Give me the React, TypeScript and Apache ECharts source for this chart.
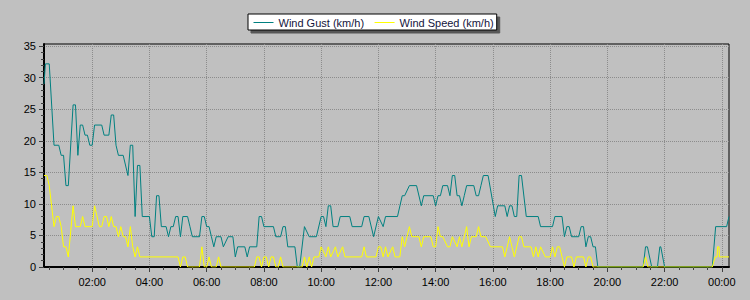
import React, { useEffect, useRef } from 'react';
import * as echarts from 'echarts';

const seriesNames = ['Wind Gust (km/h)', 'Wind Speed (km/h)'];
const seriesColors = ['#008080', '#ffff00'];

const xTickLabels = ['02:00', '04:00', '06:00', '08:00', '10:00', '12:00', '14:00', '16:00', '18:00', '20:00', '22:00', '00:00'];
const yTickValues = [0, 5, 10, 15, 20, 25, 30, 35];

const gustTimes = ['00:19','00:22','00:30','00:40','00:50','00:55','01:00','01:05','01:10','01:20','01:25','01:30','01:35','01:40','01:45','01:50','01:55','02:00','02:05','02:20','02:25','02:35','02:40','02:45','02:50','02:55','03:05','03:15','03:20','03:25','03:30','03:35','03:40','03:45','04:00','04:05','04:10','04:15','04:20','04:25','04:35','04:40','04:45','04:50','04:55','05:00','05:05','05:10','05:20','05:25','05:30','05:45','05:50','05:55','06:00','06:05','06:10','06:15','06:20','06:30','06:35','06:45','06:55','07:00','07:05','07:20','07:25','07:30','07:45','07:50','07:55','08:00','08:20','08:25','08:35','08:40','08:45','08:50','09:05','09:10','09:15','09:25','09:35','09:50','10:00','10:05','10:10','10:15','10:20','10:25','10:35','10:40','11:00','11:05','11:25','11:30','11:40','11:50','12:00','12:10','12:15','12:40','12:50','12:55','13:05','13:20','13:30','13:35','13:55','14:00','14:05','14:10','14:15','14:25','14:30','14:35','14:40','14:45','14:50','14:55','15:00','15:05','15:20','15:25','15:30','15:35','15:40','15:50','16:05','16:10','16:25','16:30','16:35','16:40','16:45','16:50','16:55','17:00','17:10','17:35','17:40','18:05','18:10','18:25','18:30','18:35','18:40','18:45','19:00','19:05','19:10','19:15','19:20','19:25','19:30','19:35','19:40','21:15','21:20','21:24','21:33','21:45','21:50','21:52','22:00','23:40','23:47','00:10','00:15'];
const gustValues = [29.0,32.2,32.2,19.3,19.3,17.7,17.7,12.9,12.9,25.7,25.7,17.7,22.5,22.5,20.9,20.9,19.3,19.3,22.5,22.5,20.9,20.9,24.1,24.1,19.3,17.7,17.7,14.5,19.3,19.3,8.0,16.1,16.1,8.0,8.0,4.8,4.8,11.3,11.3,6.4,6.4,4.8,6.4,6.4,8.0,8.0,4.8,8.0,8.0,6.4,4.8,4.8,8.0,8.0,6.4,6.4,4.8,3.2,4.8,4.8,3.2,4.8,4.8,1.6,3.2,3.2,1.6,3.2,3.2,8.0,8.0,6.4,6.4,4.8,4.8,6.4,6.4,3.2,3.2,0,0,6.4,4.8,4.8,8.0,8.0,6.4,9.7,9.7,6.4,6.4,8.0,8.0,6.4,6.4,8.0,8.0,4.8,8.0,6.4,8.0,8.0,11.3,11.3,12.9,12.9,9.7,11.3,11.3,9.7,11.3,11.3,12.9,12.9,11.3,14.5,14.5,11.3,11.3,9.7,11.3,12.9,12.9,11.3,11.3,12.9,14.5,14.5,8.0,9.7,9.7,8.0,9.7,9.7,8.0,8.0,14.5,14.5,8.0,8.0,6.4,6.4,8.0,8.0,4.8,6.4,6.4,4.8,4.8,6.4,6.4,3.2,4.8,4.8,3.2,3.2,0,0,3.2,3.2,0,0,3.2,3.2,0,0,6.4,6.4,8.0];

const speedTimes = ['00:19','00:25','00:30','00:40','00:45','00:50','00:55','01:00','01:05','01:10','01:20','01:25','01:35','01:40','01:45','02:00','02:05','02:15','02:20','02:25','02:30','02:35','02:40','02:45','02:50','02:55','03:00','03:05','03:10','03:15','03:20','03:25','03:30','03:35','03:40','05:00','05:05','05:10','05:15','05:20','05:45','05:50','05:55','06:00','06:05','06:10','06:20','06:25','06:30','07:40','07:45','07:50','07:55','08:00','08:05','08:10','08:15','08:20','08:25','08:30','08:35','08:40','09:20','09:25','09:30','09:35','09:40','09:45','09:55','10:00','10:10','10:15','10:20','10:30','10:35','10:45','10:50','11:25','11:30','11:35','11:55','12:00','12:05','12:10','12:15','12:20','12:30','12:35','12:45','12:50','12:55','13:05','13:10','13:25','13:30','13:35','13:50','13:55','14:00','14:05','14:10','14:15','14:25','14:30','14:35','14:45','14:50','14:55','15:05','15:10','15:15','15:25','15:30','15:35','15:45','15:55','16:20','16:25','16:35','16:45','16:55','17:00','17:05','17:20','17:25','17:30','17:35','17:40','17:50','18:00','18:05','18:10','18:15','18:20','18:30','18:35','18:45','18:50','18:55','19:10','19:15','19:20','19:25','19:30','21:15','21:20','21:25','23:40','23:46','23:50','23:51','23:54','23:55','00:15'];
const speedValues = [14.5,14.5,12.9,6.4,8.0,8.0,6.4,3.2,3.2,1.6,9.7,6.4,6.4,8.0,6.4,6.4,9.7,6.4,6.4,8.0,8.0,6.4,8.0,6.4,6.4,4.8,6.4,4.8,4.8,3.2,6.4,3.2,1.6,3.2,1.6,1.6,0,1.6,1.6,0,0,3.2,0,0,1.6,0,0,1.6,0,0,1.6,1.6,0,1.6,1.6,0,1.6,1.6,0,0,1.6,0,0,1.6,0,1.6,0,1.6,1.6,3.2,1.6,3.2,1.6,3.2,1.6,3.2,1.6,1.6,3.2,1.6,1.6,3.2,3.2,1.6,3.2,1.6,3.2,1.6,1.6,4.8,3.2,6.4,4.8,4.8,3.2,4.8,4.8,3.2,3.2,6.4,4.8,4.8,3.2,3.2,4.8,3.2,4.8,3.2,6.4,3.2,4.8,4.8,6.4,4.8,4.8,3.2,3.2,1.6,4.8,1.6,4.8,4.8,3.2,3.2,1.6,3.2,1.6,3.2,1.6,1.6,3.2,1.6,3.2,3.2,0,1.6,1.6,0,1.6,1.6,0,1.6,1.6,0,0,1.6,0,0,1.6,1.6,3.2,3.2,1.6,1.6];

const X_MIN = 19;
const X_MAX = 1455;
const Y_MAX = 35.35;
const FONT = 'Liberation Sans, Arial, sans-serif';

function toMinutes(times: string[]): number[] {
  const out: number[] = [];
  let offset = 0;
  let prev = -1;
  for (const t of times) {
    const [h, m] = t.split(':').map(Number);
    let v = h * 60 + m + offset;
    if (v < prev) {
      offset += 1440;
      v += 1440;
    }
    out.push(v);
    prev = v;
  }
  return out;
}

export default function App() {
  const ref = useRef<HTMLDivElement>(null);

  useEffect(() => {
    if (!ref.current) return;
    const chart = echarts.init(ref.current, undefined, { renderer: 'svg' });

    const majorX = xTickLabels.map((_, i) => (i + 1) * 120);
    const labelMap = new Map<number, string>();
    majorX.forEach((v, i) => labelMap.set(v, xTickLabels[i]));
    const minorX: number[] = [];
    for (let v = 30; v <= X_MAX; v += 30) {
      if (v >= X_MIN && v % 120 !== 0) minorX.push(v);
    }
    const minorY: number[] = [];
    for (let v = 1; v < 35; v++) {
      if (v % 5 !== 0) minorY.push(v);
    }

    const gustX = toMinutes(gustTimes);
    const speedX = toMinutes(speedTimes);

    const tickColor = '#404040';
    const gridLine = { show: true, lineStyle: { color: '#8c8c8c', width: 1, type: [1, 1] as any } };

    chart.setOption({
      animation: false,
      backgroundColor: '#c0c0c0',
      textStyle: { fontFamily: FONT },
      grid: {
        left: 44, top: 44, right: 21, bottom: 33,
        show: true, borderColor: '#000', borderWidth: 1, backgroundColor: 'transparent',
      },
      legend: {
        data: seriesNames,
        left: 248, top: 14,
        orient: 'horizontal',
        backgroundColor: '#ffffff',
        borderColor: '#000000',
        borderWidth: 1,
        padding: [3, 3, 2, 5],
        itemWidth: 20,
        itemHeight: 10,
        itemGap: 10,
        selectedMode: false,
        itemStyle: { opacity: 0 },
        lineStyle: { width: 1 },
        textStyle: { color: '#14143c', fontSize: 11, fontFamily: FONT },
        shadowColor: 'rgba(0,0,0,0.55)',
        shadowBlur: 1,
        shadowOffsetX: 3,
        shadowOffsetY: 3,
      },
      xAxis: [
        {
          type: 'value', min: X_MIN, max: X_MAX, position: 'bottom',
          axisLine: { show: true, onZero: false, lineStyle: { color: '#000', width: 2 } },
          axisTick: { show: true, length: 5, customValues: majorX, lineStyle: { color: tickColor } },
          axisLabel: {
            show: true, customValues: majorX, margin: 9, color: '#000', fontSize: 11, fontFamily: FONT,
            formatter: (v: number) => labelMap.get(Math.round(v)) ?? '',
          },
          splitLine: gridLine,
        },
        {
          type: 'value', min: X_MIN, max: X_MAX, position: 'bottom',
          axisLine: { show: false, onZero: false },
          axisTick: { show: true, length: 3, customValues: minorX, lineStyle: { color: tickColor } },
          axisLabel: { show: false },
          splitLine: { show: false },
        },
      ],
      yAxis: [
        {
          type: 'value', min: 0, max: Y_MAX, position: 'left',
          axisLine: { show: true, onZero: false, lineStyle: { color: '#000', width: 2 } },
          axisTick: { show: true, length: 5, customValues: yTickValues, lineStyle: { color: tickColor } },
          axisLabel: { show: true, customValues: yTickValues, margin: 8, color: '#000', fontSize: 11, fontFamily: FONT },
          splitLine: gridLine,
        },
        {
          type: 'value', min: 0, max: Y_MAX, position: 'left',
          axisLine: { show: false, onZero: false },
          axisTick: { show: true, length: 3, customValues: minorY, lineStyle: { color: tickColor } },
          axisLabel: { show: false },
          splitLine: { show: false },
        },
      ],
      series: [
        {
          name: seriesNames[0], type: 'line', xAxisIndex: 0, yAxisIndex: 0,
          symbol: 'none', showSymbol: false,
          color: seriesColors[0],
          lineStyle: { color: seriesColors[0], width: 1 },
          data: gustX.map((x, i) => [x, gustValues[i]]),
        },
        {
          name: seriesNames[1], type: 'line', xAxisIndex: 0, yAxisIndex: 0,
          symbol: 'none', showSymbol: false,
          color: seriesColors[1],
          lineStyle: { color: seriesColors[1], width: 1 },
          data: speedX.map((x, i) => [x, speedValues[i]]),
        },
      ],
    });

    return () => chart.dispose();
  }, []);

  return (
    <div
      ref={ref}
      style={{ position: 'absolute', left: 0, top: 0, width: 750, height: 300, background: '#c0c0c0' }}
    />
  );
}
